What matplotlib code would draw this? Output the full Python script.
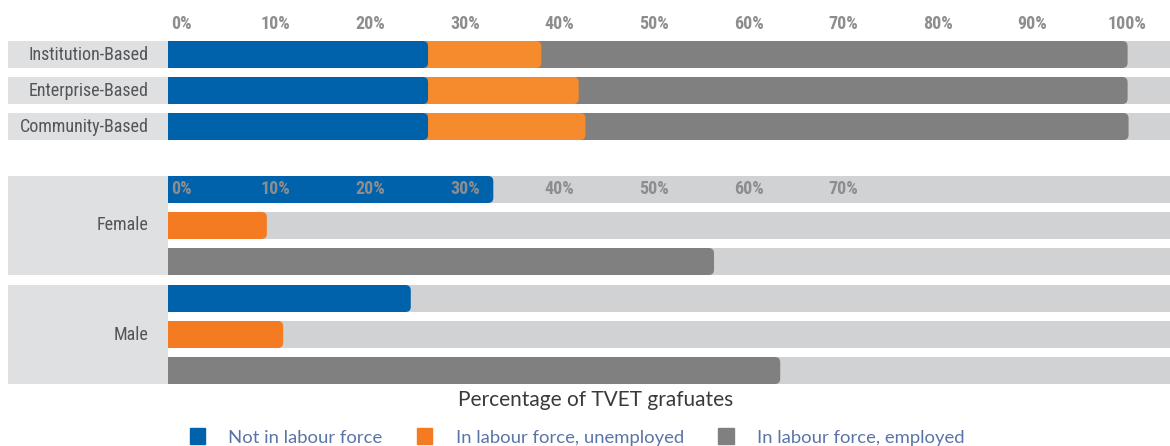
import matplotlib
matplotlib.use("Agg")
import matplotlib.pyplot as plt
from matplotlib import font_manager
from matplotlib.patches import FancyBboxPatch, Patch

# Share of TVET graduates by labour force status (%)
programmes = ["Institution-Based", "Enterprise-Based", "Community-Based"]
prog_not_in_lf = [27.1, 27.1, 27.1]
prog_unemployed = [11.8, 15.7, 16.4]
prog_employed = [61.1, 57.2, 56.6]

sexes = ["Female", "Male"]
sex_not_in_lf = [33.9, 25.3]
sex_unemployed = [10.3, 12.0]
sex_employed = [56.9, 63.8]

top_ticks = [0, 10, 20, 30, 40, 50, 60, 70, 80, 90, 100]
bottom_ticks = [0, 10, 20, 30, 40, 50, 60, 70]
status_labels = ["Not in labour force", "In labour force, unemployed",
                 "In labour force, employed"]

BLUE = "#0062ab"
ORANGE = "#f68b2d"
ORANGE2 = "#f47b22"
GREY = "#808080"
TRACK = "#d1d2d4"
LABEL_BG = "#dfe0e2"


def narrow_font():
    # prefer a condensed face for the category / tick labels
    for fam, stretch in [("Roboto Condensed", "normal"),
                         ("Liberation Sans Narrow", "normal"),
                         ("DejaVu Sans", "condensed")]:
        try:
            path = font_manager.findfont(
                font_manager.FontProperties(family=fam, stretch=stretch),
                fallback_to_default=False)
        except ValueError:
            continue
        if "ondensed" in path or "Narrow" in path:
            return {"family": [fam, "DejaVu Sans"], "stretch": stretch}
    return {"family": ["Roboto", "DejaVu Sans"], "stretch": "normal"}


NARROW = narrow_font()

W, H = 1170, 446
PX = 9.596          # pixels per percentage point
R = 0.55            # corner radius of bar ends, in % units
BAR_H = 27

fig = plt.figure(figsize=(W / 100, H / 100), dpi=100)
ax = fig.add_axes([0, 0, 1, 1])
ax.set_xlim(-168 / PX, (W - 168) / PX)
ax.set_ylim(H, 0)
ax.axis("off")
XMAX = (W - 168) / PX
LABEL_X0 = -160 / PX


def segment(y, left, width, color):
    # flat body (tucked under the previous segment's rounded end) + rounded cap
    start = left - R if left > 0 else left
    ax.barh(y, left + width - R - start, left=start, height=BAR_H,
            color=color, linewidth=0)
    ax.add_patch(FancyBboxPatch((left + width - 2 * R, y - BAR_H / 2), 2 * R, BAR_H,
                                boxstyle=f"round,pad=0,rounding_size={R}",
                                mutation_aspect=PX, color=color, linewidth=0))


def track(y):
    ax.barh(y, XMAX, left=0, height=BAR_H, color=TRACK, linewidth=0)


def tick_labels(y, ticks):
    for t in ticks:
        ax.text(1.35 + 0.986 * t, y, f"{t}%", ha="center", va="center",
                fontsize=13, fontweight="bold", color="#8c8d8f", **NARROW)


# stacked bars by programme type
prog_y = [54.5, 90.5, 126.5]
for i, name in enumerate(programmes):
    y = prog_y[i]
    ax.barh(y, -LABEL_X0, left=LABEL_X0, height=BAR_H, color=LABEL_BG, linewidth=0)
    track(y)
    c1 = prog_not_in_lf[i]
    c2 = c1 + prog_unemployed[i]
    segment(y, c2, prog_employed[i], GREY)
    segment(y, c1, prog_unemployed[i], ORANGE)
    segment(y, 0, c1, BLUE)
    ax.text(-2.0, y, name, ha="right", va="center", fontsize=13,
            color="#555555", **NARROW)
tick_labels(24, top_ticks)

# separate bars by sex
group_top = [176, 285]
for i, sex in enumerate(sexes):
    top = group_top[i]
    rows = [top + 13.5, top + 49.5, top + 85.5]
    ax.barh(top + 49.5, -LABEL_X0, left=LABEL_X0, height=99, color=LABEL_BG,
            linewidth=0)
    for y, val, col in zip(rows, [sex_not_in_lf[i], sex_unemployed[i], sex_employed[i]],
                           [BLUE, ORANGE2, GREY]):
        track(y)
        segment(y, 0, val, col)
    ax.text(-2.0, rows[1], sex, ha="right", va="center", fontsize=13,
            color="#555555", **NARROW)
tick_labels(189, bottom_ticks)

ax.text((596 - 168) / PX, 400, "Percentage of TVET grafuates", ha="center",
        va="center", fontsize=15, color="#3a3a3a", family=["Lato", "DejaVu Sans"])

handles = [Patch(color=c) for c in [BLUE, ORANGE2, GREY]]
fig.legend(handles, status_labels, loc="center", ncol=3, frameon=False,
           bbox_to_anchor=(577 / W, 1 - 437 / H),
           labelcolor="#5b74a8", handlelength=0.85, handleheight=0.9,
           handletextpad=1.25, columnspacing=1.85,
           prop={"family": ["Lato", "DejaVu Sans"], "size": 13.3})

fig.savefig("out.png", dpi=100)
